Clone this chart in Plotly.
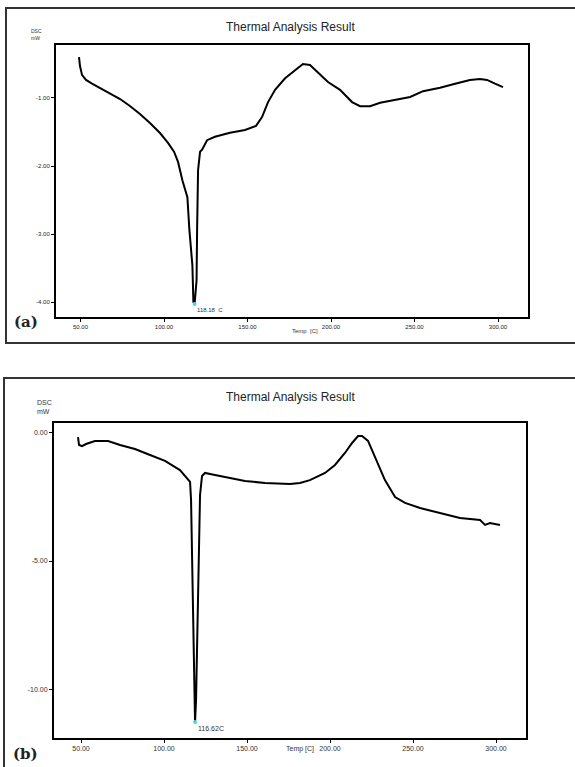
import plotly.graph_objects as go

W, H = 575, 767

# ---------------- data: panel (a) ----------------
temp_a = [49.1, 49.7, 50.9, 53.3, 56.9, 61.7, 67.7, 73.7, 79.6, 85.6, 91.6, 97.6, 102.4,
          106.0, 108.4, 111.0, 114.0, 115.2, 117.0, 117.6, 118.3, 119.5, 119.8, 120.1,
          120.4, 121.6, 122.8, 125.8, 130.5, 139.5, 148.5, 155.1, 158.7, 162.3, 166.5,
          172.5, 178.5, 183.2, 187.4, 192.2, 198.2, 205.4, 212.6, 217.4, 223.4, 229.4,
          238.4, 247.4, 255.1, 265.3, 274.3, 283.2, 289.2, 293.4, 298.2, 303.0]
dsc_a = [-0.40, -0.53, -0.66, -0.735, -0.79, -0.853, -0.926, -1.015, -1.118, -1.235,
         -1.368, -1.515, -1.66, -1.79, -1.94, -2.21, -2.46, -2.94, -3.46, -4.0, -4.03,
         -3.68, -2.97, -2.53, -2.06, -1.79, -1.76, -1.62, -1.57, -1.51, -1.47, -1.41,
         -1.28, -1.06, -0.88, -0.71, -0.59, -0.50, -0.515, -0.63, -0.765, -0.88, -1.06,
         -1.12, -1.12, -1.07, -1.03, -0.985, -0.90, -0.85, -0.79, -0.735, -0.72, -0.735,
         -0.79, -0.84]
peak_a_temp, peak_a_dsc = 118.3, -4.03
peak_a_label = "118.18  C"

# ---------------- data: panel (b) ----------------
temp_b = [48.2, 48.8, 50.6, 53.0, 58.4, 66.3, 73.5, 82.5, 91.6, 100.6, 109.6, 113.9,
          115.7, 116.3, 116.9, 117.5, 118.1, 118.7, 119.3, 119.9, 120.5, 121.1, 121.7,
          122.9, 124.7, 130.7, 139.8, 148.8, 160.8, 175.9, 181.9, 187.9, 197.0, 203.0,
          209.0, 213.3, 216.9, 219.3, 222.9, 227.1, 233.1, 239.2, 245.2, 254.2, 266.3,
          278.3, 290.4, 293.4, 296.4, 302.4]
dsc_b = [-0.16, -0.47, -0.51, -0.43, -0.31, -0.31, -0.47, -0.625, -0.86, -1.09, -1.45,
         -1.76, -1.91, -2.62, -4.96, -8.09, -10.04, -11.29, -10.43, -8.09, -5.74, -3.79,
         -2.42, -1.68, -1.56, -1.64, -1.76, -1.875, -1.95, -1.99, -1.95, -1.84, -1.56,
         -1.25, -0.78, -0.39, -0.12, -0.12, -0.31, -0.94, -1.84, -2.5, -2.73, -2.93,
         -3.125, -3.32, -3.40, -3.59, -3.52, -3.59]
peak_b_temp, peak_b_dsc = 118.7, -11.29
peak_b_label = "116.62C"

x_ticks = [50, 100, 150, 200, 250, 300]
x_tick_text = ["50.00", "100.00", "150.00", "200.00", "250.00", "300.00"]
y_ticks_a = [-1, -2, -3, -4]
y_tick_text_a = ["-1.00", "-2.00", "-3.00", "-4.00"]
y_ticks_b = [0, -5, -10]
y_tick_text_b = ["0.00", "-5.00", "-10.00"]


def px(x):
    return x / W


def py(y):
    return 1 - y / H


fig = go.Figure()
fig.add_trace(go.Scatter(x=temp_a, y=dsc_a, mode="lines", line=dict(color="black", width=2),
                         xaxis="x", yaxis="y", showlegend=False, hoverinfo="skip"))
fig.add_trace(go.Scatter(x=[peak_a_temp], y=[peak_a_dsc], mode="markers",
                         marker=dict(color="#4fd6e0", size=4), xaxis="x", yaxis="y",
                         showlegend=False))
fig.add_trace(go.Scatter(x=temp_b, y=dsc_b, mode="lines", line=dict(color="black", width=2),
                         xaxis="x2", yaxis="y2", showlegend=False, hoverinfo="skip"))
fig.add_trace(go.Scatter(x=[peak_b_temp], y=[peak_b_dsc], mode="markers",
                         marker=dict(color="#4fd6e0", size=4), xaxis="x2", yaxis="y2",
                         showlegend=False))

axis_common = dict(showgrid=False, zeroline=False, showline=True, linecolor="black",
                   linewidth=2, mirror=True, ticks="outside", ticklen=3, tickcolor="black",
                   tickwidth=1)

fig.update_layout(
    width=W, height=H, autosize=False,
    margin=dict(l=0, r=0, t=0, b=0),
    paper_bgcolor="white", plot_bgcolor="white",
    font=dict(family="Arial, Liberation Sans, sans-serif", color="#222"),
    xaxis=dict(domain=[px(56), px(528)], range=[35.33, 317.96], anchor="y",
               tickvals=x_ticks, ticktext=x_tick_text,
               tickfont=dict(size=6, color="#222"), **axis_common),
    yaxis=dict(domain=[py(317), py(45)], range=[-4.22, -0.221], anchor="x",
               tickvals=y_ticks_a, ticktext=y_tick_text_a,
               tickfont=dict(size=6, color="#222"), **axis_common),
    xaxis2=dict(domain=[px(54), px(526)], range=[33.73, 318.07], anchor="y2",
                tickvals=x_ticks, ticktext=x_tick_text,
                tickfont=dict(size=7, color="#333"), **axis_common),
    yaxis2=dict(domain=[py(738), py(423)], range=[-11.91, 0.39], anchor="x2",
                tickvals=y_ticks_b, ticktext=y_tick_text_b,
                tickfont=dict(size=7, color="#333"), **axis_common),
)

# outer frames
fig.add_shape(type="rect", xref="paper", yref="paper", x0=px(6), x1=1.02,
              y0=py(343), y1=py(8), line=dict(color="#333", width=2))
fig.add_shape(type="rect", xref="paper", yref="paper", x0=px(4), x1=1.02,
              y0=-0.02, y1=py(378), line=dict(color="#333", width=2))

ann = []
# titles
ann.append(dict(text="Thermal Analysis Result", x=px(290), y=py(27), font=dict(size=12, color="#222")))
ann.append(dict(text="Thermal Analysis Result", x=px(290), y=py(397), font=dict(size=12, color="#222")))
# DSC labels
ann.append(dict(text="DSC<br>mW", x=px(36), y=py(34), font=dict(size=5, color="#333"), align="left"))
ann.append(dict(text="DSC<br>mW", x=px(44), y=py(407), font=dict(size=7, color="#333"), align="left"))
# x labels
ann.append(dict(text="Temp  [C]", x=px(305), y=py(331), font=dict(size=6, color="#333")))
ann.append(dict(text="Temp [C]", x=px(300), y=py(749), font=dict(size=7, color="#333")))
# panel letters
ann.append(dict(text="<b>(a)</b>", x=px(26), y=py(322),
                font=dict(size=15, family="DejaVu Serif, Liberation Serif, serif", color="#222")))
ann.append(dict(text="<b>(b)</b>", x=px(25), y=py(754),
                font=dict(size=15, family="DejaVu Serif, Liberation Serif, serif", color="#222")))

for a in ann:
    a.update(xref="paper", yref="paper", showarrow=False, xanchor="center", yanchor="middle")
    fig.add_annotation(**a)

# peak labels (data coordinates)
fig.add_annotation(x=peak_a_temp, y=peak_a_dsc, xref="x", yref="y", text=peak_a_label,
                   showarrow=False, xanchor="left", yanchor="top", xshift=0, yshift=-1,
                   font=dict(size=6, color="#333"))
fig.add_annotation(x=peak_b_temp, y=peak_b_dsc, xref="x2", yref="y2", text=peak_b_label,
                   showarrow=False, xanchor="left", yanchor="top", xshift=1, yshift=-1,
                   font=dict(size=7, color="#333"))

fig.write_html("out.html", config={"displayModeBar": False},
               post_script="document.body.style.margin='0';document.body.style.overflow='hidden';")
